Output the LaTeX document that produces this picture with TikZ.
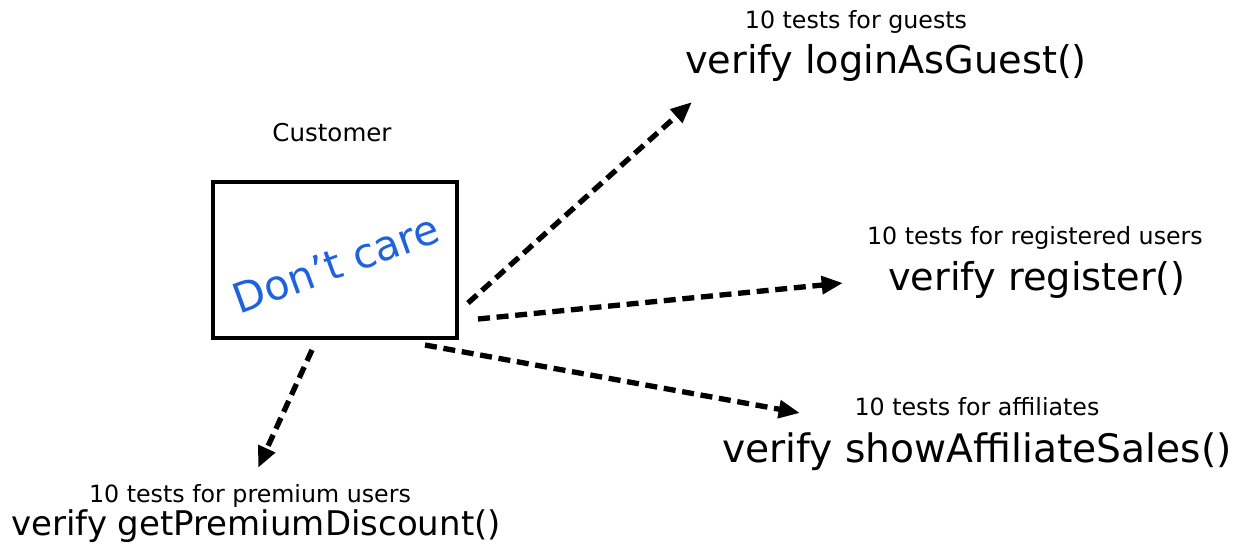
\documentclass[tikz,border=0pt]{standalone}
\usepackage{fontspec}
\setmainfont{DejaVu Sans}
\usepackage{tikz}
\usetikzlibrary{arrows.meta}
\definecolor{careblue}{RGB}{30,98,220}

\begin{document}
\begin{tikzpicture}[
		x=0.75pt, y=-0.75pt
		,every node/.append style={inner sep=0pt}
		,note/.style={font=\fontsize{17.8}{20}\selectfont}
		,call/.style={font=\fontsize{28.7}{32}\selectfont}
		,obj/.style={draw, line width=2.4pt, minimum width=183pt, minimum height=117pt}
		,dep/.style={line width=4pt, dash pattern=on 9pt off 5pt, -{Triangle[length=16pt,width=13pt]}}
	]
		\useasboundingbox (0,0) rectangle (1234,546);

		\node [obj] (box) at (335,260) {};
		\node [note, font=\fontsize{18.4}{20}\selectfont] (cust) at (332,133) {Customer};
		\node [rotate=20, text=careblue, font=\fontsize{31}{34}\selectfont] (dc) at (336,264) {Don't care};

		\node [note] (tG) at (856,22) {10 tests for guests};
		\node [call] (vG) at (886,63) {verify loginAsGuest()};
		\node [note] (tR) at (1035,238) {10 tests for registered users};
		\node [call] (vR) at (1037,280) {verify register()};
		\node [note] (tA) at (977,407) {10 tests for affiliates};
		\node [call, font=\fontsize{29.4}{32}\selectfont] (vA) at (977,452) {verify showAffiliateSales()};
		\node [note] (tP) at (250,496) {10 tests for premium users};
		\node [call, font=\fontsize{25.5}{30}\selectfont] (vP) at (256,526) {verify getPremiumDiscount()};

		% arrow ends
		\coordinate (s1) at (468,303);
		\coordinate (e1) at (692,102);
		\coordinate (s2) at (478,319);
		\coordinate (e2) at (843,283);
		\coordinate (s3) at (425,345);
		\coordinate (e3) at (800,413);
		\coordinate (s4) at (312,350);
		\coordinate (e4) at (258,468);

		\draw [dep] (s1) -- (e1);
		\draw [dep] (s2) -- (e2);
		\draw [dep] (s3) -- (e3);
		\draw [dep] (s4) -- (e4);
	\end{tikzpicture}
\end{document}
